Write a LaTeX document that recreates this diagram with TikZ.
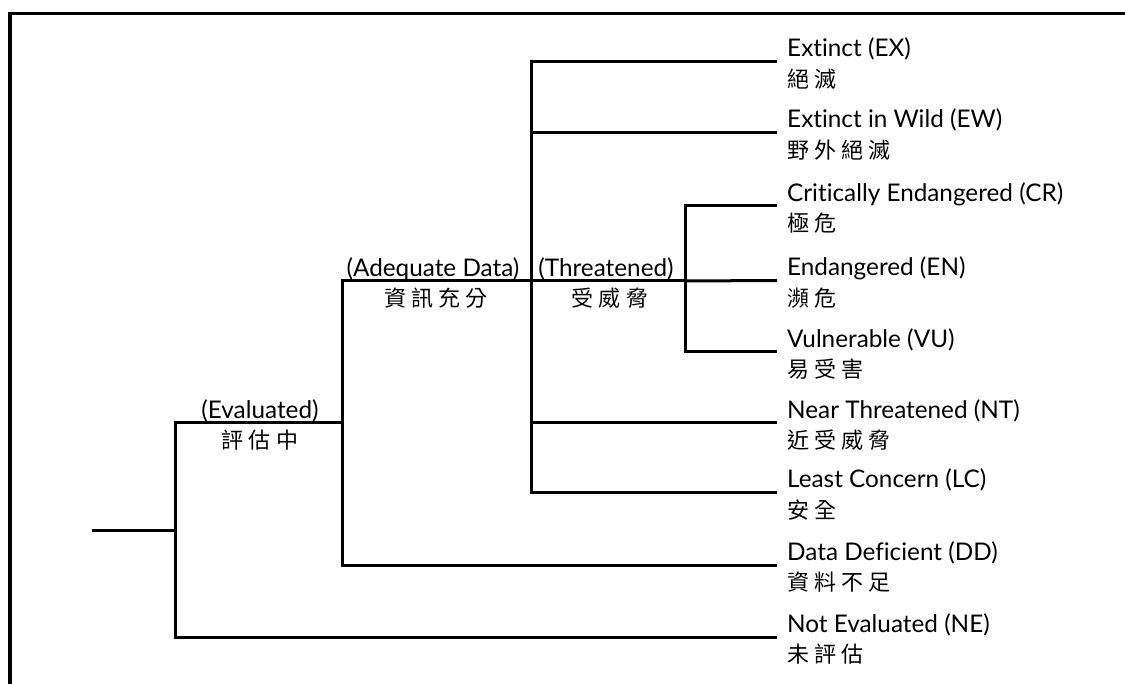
\documentclass[tikz,border=0pt]{standalone}
\usepackage{fontspec}
\setmainfont[Ligatures=NoCommon]{Lato}
\newfontfamily\cjk[LetterSpace=23]{Noto Sans CJK TC}
\usetikzlibrary{calc}
\begin{document}
\begin{tikzpicture}[x=1pt,y=-1pt,
  branch/.style={line width=3pt, line join=miter},
  frame/.style={line width=3.5pt},
  en/.style={font=\fontsize{24.3}{28}\selectfont, inner sep=0pt},
  zh/.style={font=\cjk\fontsize{22}{24}\selectfont, inner sep=0pt},
]
\useasboundingbox (0,0) rectangle (1125,684);

% partial frame
\coordinate (fb) at (10,684);
\coordinate (fc) at (10,13.5);
\coordinate (fr) at (1125,13.5);
\draw[frame] (fb) -- (fc) -- (fr);

% junctions
\coordinate (root) at (92,530);
\coordinate (n0) at (175,530);
\coordinate (n1) at (342,423);
\coordinate (n2) at (531,281);
\coordinate (n3) at (685,281);

% leaf ends
\coordinate (EX) at (777,61.5);
\coordinate (EW) at (777,132.5);
\coordinate (CR) at (777,206);
\coordinate (EN) at (777,280.5);
\coordinate (VU) at (777,352);
\coordinate (NT) at (777,423);
\coordinate (LC) at (777,492.5);
\coordinate (DD) at (777,565);
\coordinate (NE) at (777,637);

% branches
\draw[branch] (root) -- (n0);
\draw[branch] (n0) |- (n1);
\draw[branch] (n0) |- (NE);
\draw[branch] (n1) |- (n2);
\draw[branch] (n1) |- (DD);
\draw[branch] (n2) |- (EX);
\draw[branch] (n2) |- (EW);
\draw[branch] (n2) |- (NT);
\draw[branch] (n2) |- (LC);
\draw[branch] (n2) -- (n3);
\draw[branch] (n3) |- (CR);
\draw[branch] (n3) -- (EN);
\draw[branch] (n3) |- (VU);

% branch labels
\node[en, anchor=base] (l-eval) at (260,419) {(Evaluated)};
\node[zh] (z-eval) at (260,440) {評估中};
\node[en, anchor=base] (l-adeq) at (433,277) {(Adequate Data)};
\node[zh] (z-adeq) at (436,298) {資訊充分};
\node[en, anchor=base] (l-thr) at (606,277) {(Threatened)};
\node[zh] (z-thr) at (610,298) {受威脅};

% leaf labels
\foreach \k/\e/\z in {EX/Extinct (EX)/絕滅,
                      EW/Extinct in Wild (EW)/野外絕滅,
                      CR/Critically Endangered (CR)/極危,
                      EN/Endangered (EN)/瀕危,
                      VU/Vulnerable (VU)/易受害,
                      NT/Near Threatened (NT)/近受威脅,
                      LC/Least Concern (LC)/安全,
                      DD/Data Deficient (DD)/資料不足,
                      NE/Not Evaluated (NE)/未評估}{
  \node[en, anchor=base west] (\k-en) at ($(\k)+(10,-4.5)$) {\e};
  \node[zh, anchor=west] (\k-zh) at ($(\k)+(10,17.5)$) {\z};
}
\end{tikzpicture}
\end{document}
